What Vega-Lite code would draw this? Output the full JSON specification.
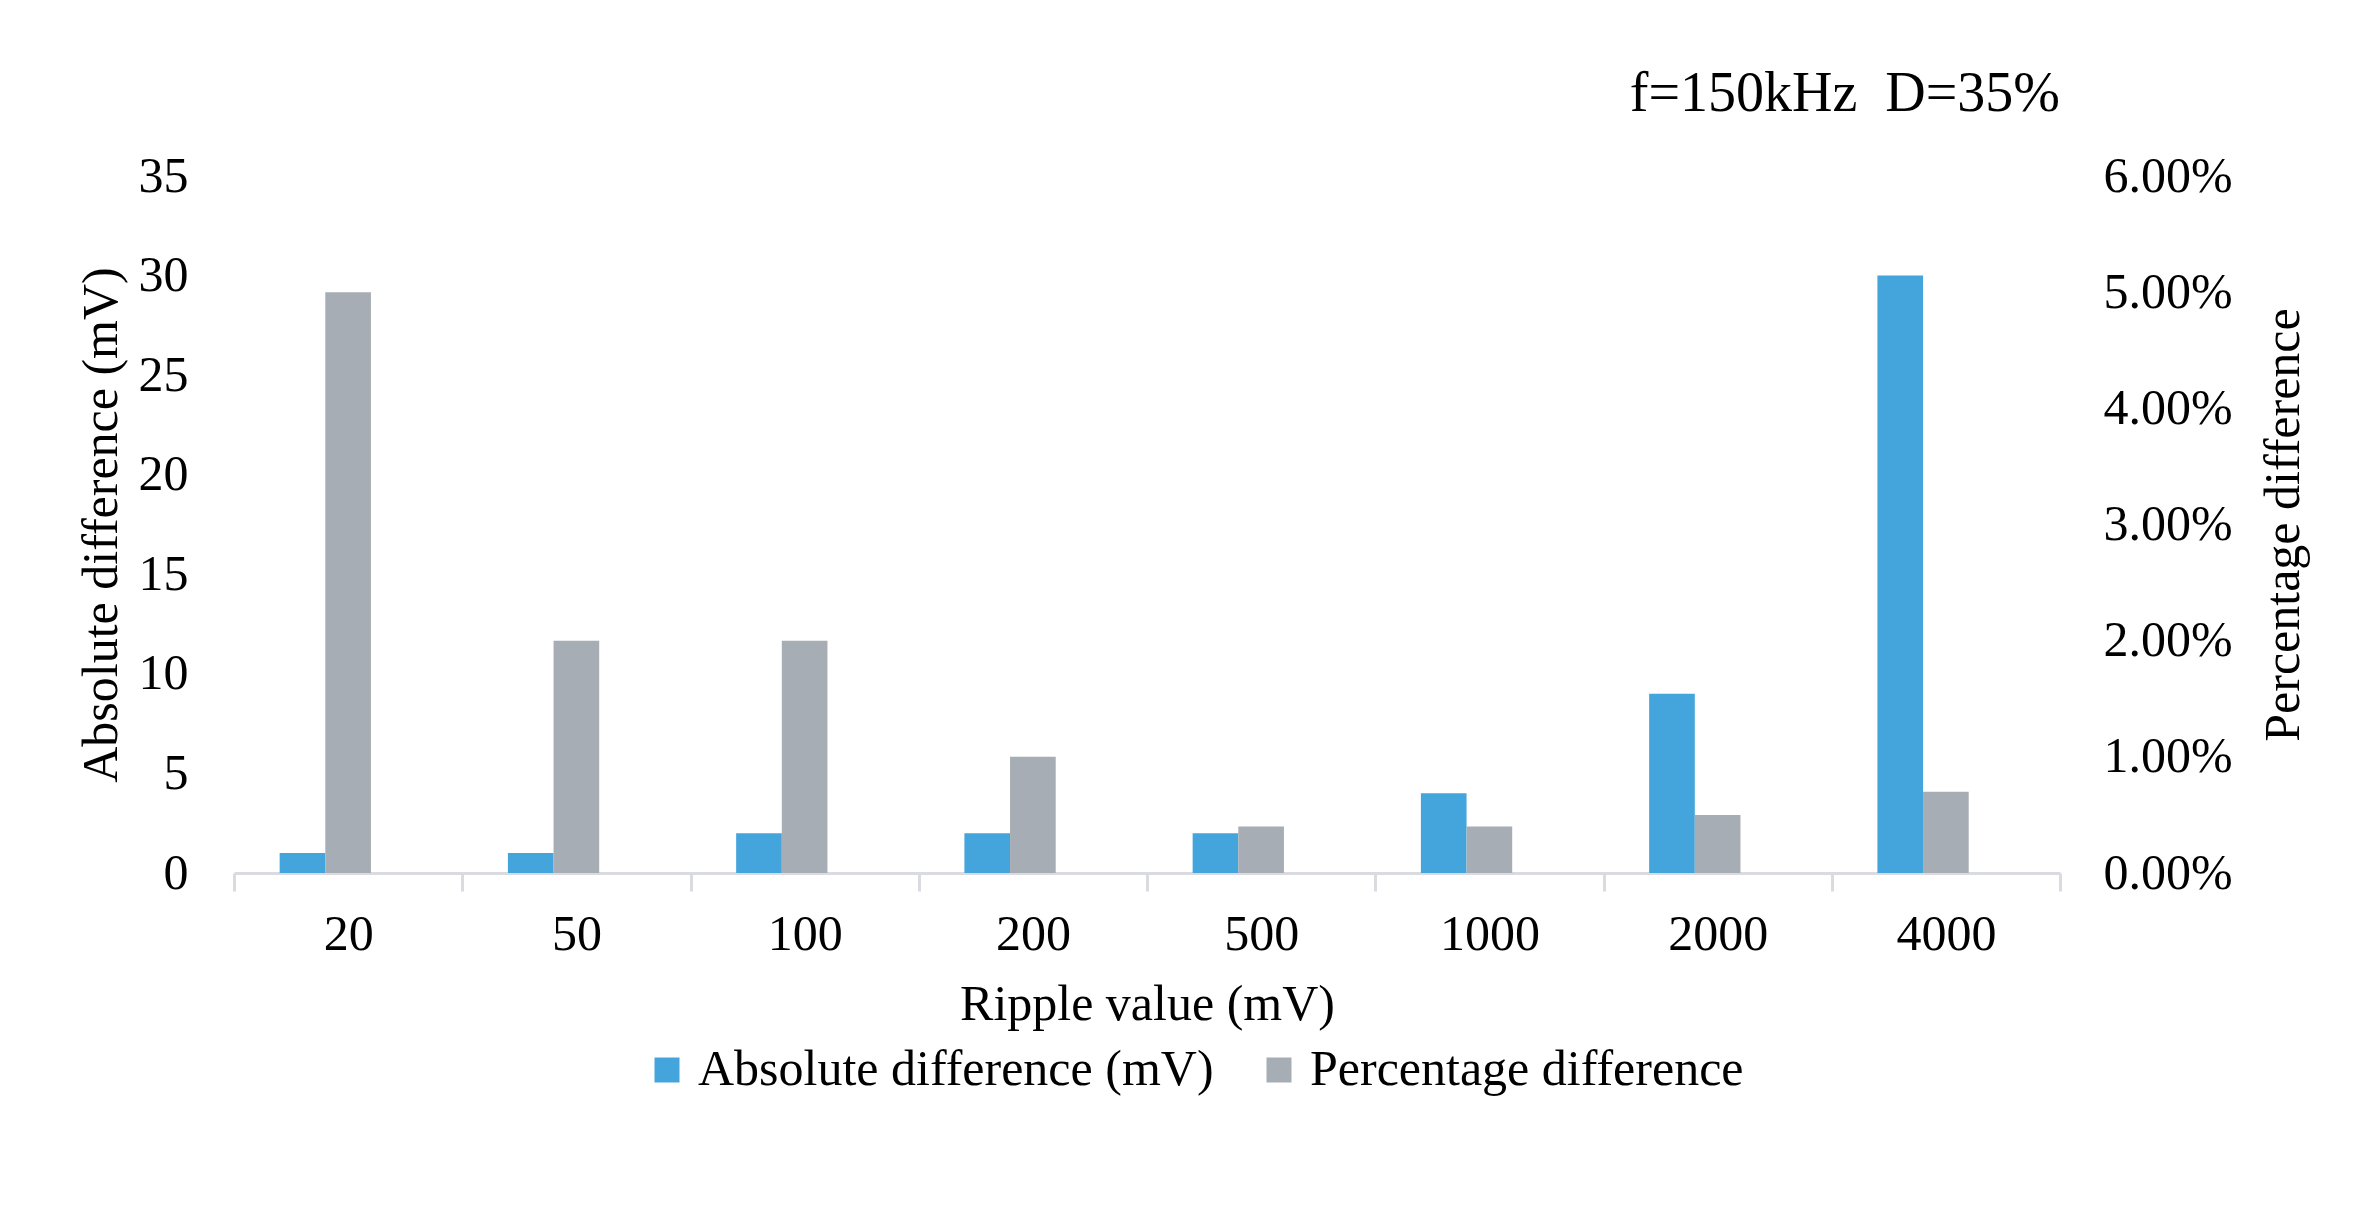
{
  "$schema": "https://vega.github.io/schema/vega-lite/v6.json",
  "width": 1826,
  "height": 697,
  "autosize": {"type": "none"},
  "padding": {"left": 234, "top": 176, "right": 314, "bottom": 348},
  "background": "white",
  "title": {
    "text": "f=150kHz\u00a0 D=35%",
    "anchor": "end",
    "frame": "group",
    "fontSize": 56,
    "font": "Liberation Serif",
    "fontWeight": "normal",
    "color": "#000000",
    "offset": 28
  },
  "data": {
    "values": [
      {"ripple": "20", "series": "Absolute difference (mV)", "value": 1},
      {"ripple": "50", "series": "Absolute difference (mV)", "value": 1},
      {"ripple": "100", "series": "Absolute difference (mV)", "value": 2},
      {"ripple": "200", "series": "Absolute difference (mV)", "value": 2},
      {"ripple": "500", "series": "Absolute difference (mV)", "value": 2},
      {"ripple": "1000", "series": "Absolute difference (mV)", "value": 4},
      {"ripple": "2000", "series": "Absolute difference (mV)", "value": 9},
      {"ripple": "4000", "series": "Absolute difference (mV)", "value": 30},
      {"ripple": "20", "series": "Percentage difference", "value": 0.05},
      {"ripple": "50", "series": "Percentage difference", "value": 0.02},
      {"ripple": "100", "series": "Percentage difference", "value": 0.02},
      {"ripple": "200", "series": "Percentage difference", "value": 0.01},
      {"ripple": "500", "series": "Percentage difference", "value": 0.004},
      {"ripple": "1000", "series": "Percentage difference", "value": 0.004},
      {"ripple": "2000", "series": "Percentage difference", "value": 0.005},
      {"ripple": "4000", "series": "Percentage difference", "value": 0.007}
    ]
  },
  "encoding": {
    "x": {
      "field": "ripple",
      "type": "nominal",
      "sort": ["20", "50", "100", "200", "500", "1000", "2000", "4000"],
      "scale": {"paddingInner": 0, "paddingOuter": 0},
      "axis": {
        "title": "Ripple value (mV)",
        "labelAngle": 0,
        "tickBand": "extent",
        "tickSize": 18,
        "tickWidth": 3,
        "tickColor": "#D9DBE1",
        "domainColor": "#D9DBE1",
        "domainWidth": 3,
        "labelPadding": 18,
        "titlePadding": 20,
        "grid": false
      }
    },
    "xOffset": {
      "field": "series",
      "type": "nominal",
      "scale": {
        "domain": ["_0", "Absolute difference (mV)", "Percentage difference", "_1", "_2"],
        "paddingInner": 0,
        "paddingOuter": 0
      }
    },
    "color": {
      "field": "series",
      "type": "nominal",
      "scale": {
        "domain": ["Absolute difference (mV)", "Percentage difference"],
        "range": ["#43A5DC", "#A7ADB4"]
      },
      "legend": {
        "title": null,
        "orient": "none",
        "direction": "horizontal",
        "legendX": 408,
        "legendY": 869,
        "symbolType": "square",
        "symbolSize": 625,
        "symbolStrokeWidth": 0,
        "labelFontSize": 50,
        "labelFont": "Liberation Serif",
        "labelColor": "#000000",
        "labelOffset": 6,
        "columnPadding": 40,
        "labelLimit": 1000
      }
    }
  },
  "layer": [
    {
      "transform": [{"filter": "datum.series === 'Absolute difference (mV)'"}],
      "mark": {"type": "bar"},
      "encoding": {
        "y": {
          "field": "value",
          "type": "quantitative",
          "scale": {"domain": [0, 35], "nice": false},
          "axis": {
            "title": "Absolute difference (mV)",
            "values": [0, 5, 10, 15, 20, 25, 30, 35],
            "grid": false,
            "domain": false,
            "ticks": false,
            "labelPadding": 46,
            "titlePadding": 12
          }
        }
      }
    },
    {
      "transform": [{"filter": "datum.series === 'Percentage difference'"}],
      "mark": {"type": "bar"},
      "encoding": {
        "y": {
          "field": "value",
          "type": "quantitative",
          "scale": {"domain": [0, 0.06], "nice": false},
          "axis": {
            "orient": "right",
            "title": "Percentage difference",
            "format": ".2%",
            "values": [0, 0.01, 0.02, 0.03, 0.04, 0.05, 0.06],
            "grid": false,
            "domain": false,
            "ticks": false,
            "labelPadding": 43,
            "titlePadding": 26,
            "titleAngle": 270,
            "titleBaseline": "top"
          }
        }
      }
    }
  ],
  "resolve": {"scale": {"y": "independent"}},
  "config": {
    "view": {"stroke": null},
    "font": "Liberation Serif",
    "axis": {
      "labelFont": "Liberation Serif",
      "labelFontSize": 50,
      "labelColor": "#000000",
      "titleFont": "Liberation Serif",
      "titleFontSize": 50,
      "titleFontWeight": "normal",
      "titleColor": "#000000"
    }
  }
}
